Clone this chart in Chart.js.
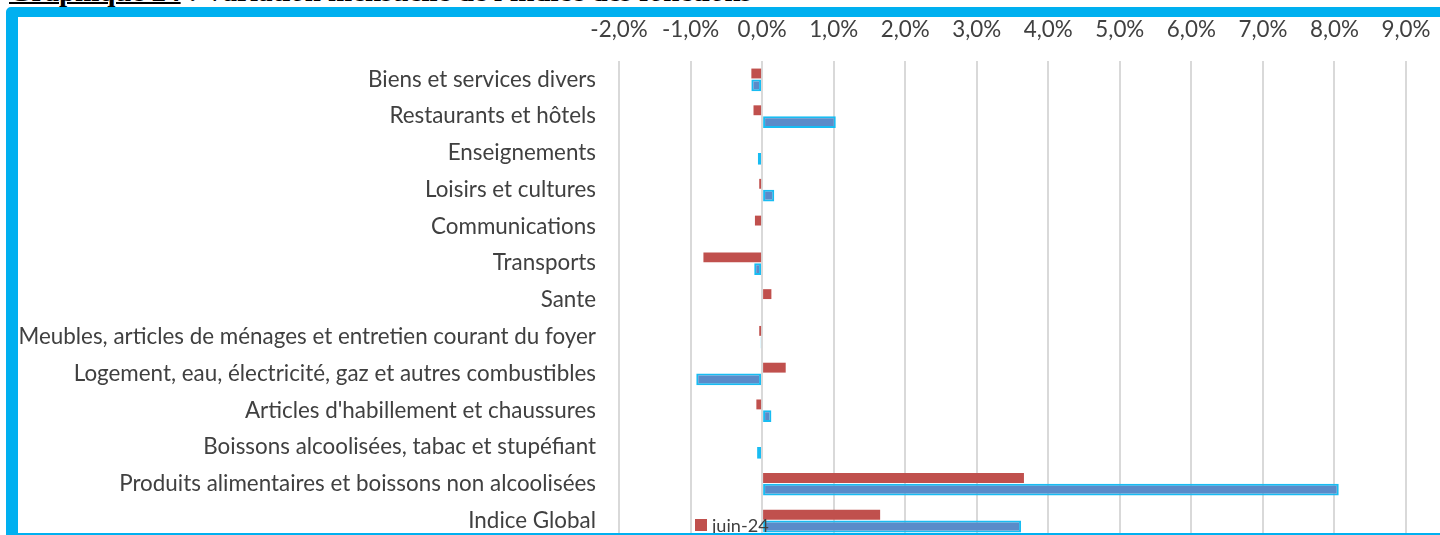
<!DOCTYPE html>
<html lang="fr">
<head>
<meta charset="utf-8">
<title>Variation mensuelle de l'indice des fonctions</title>
<script src="https://cdn.jsdelivr.net/npm/chart.js@4.4.1/dist/chart.umd.min.js"></script>
<style>
    html, body { margin: 0; padding: 0; background: #fff; width: 1440px; height: 535px; overflow: hidden; }
    #title { position: absolute; left: 9px; top: -23px; font: bold 29px/28px "Liberation Serif", "Times New Roman", serif; color: #000; white-space: nowrap; }
    #title u { text-decoration-thickness: 1.5px; text-underline-offset: 1px; }
    #frame { position: absolute; left: 6px; top: 7px; width: 1440px; height: 516px; border: 10px solid #00b0f0; border-left-width: 12px; border-radius: 5px; overflow: hidden; background: #fff; }
    #chart-box { position: absolute; left: 0; top: 0; width: 1422px; height: 560px; }
    #legend { position: absolute; left: 677px; top: 496px; color: #404040; font-family: Lato, "Open Sans", sans-serif; }
    #legend .row { display: flex; align-items: center; height: 24px; }
    #legend .swatch { width: 12px; height: 12px; margin-right: 5px; }
</style>
</head>
<body>
<div id="title"><u>Graphique 24</u> : Variation mensuelle de l'indice des fonctions</div>
<div id="frame">
    <div id="chart-box"><canvas id="functions-chart"></canvas></div>
    <div id="legend"></div>
</div>
<script>
const categories = [
    'Biens et services divers',
    'Restaurants et hôtels',
    'Enseignements',
    'Loisirs et cultures',
    'Communications',
    'Transports',
    'Sante',
    'Meubles, articles de ménages et entretien courant du foyer',
    'Logement, eau, électricité, gaz et autres combustibles',
    "Articles d'habillement et chaussures",
    'Boissons alcoolisées, tabac et stupéfiant',
    'Produits alimentaires et boissons non alcoolisées',
    'Indice Global',
];

const seriesNames = ['juin-24', 'juil-24'];

// variation en %
const juin24 = [-0.15, -0.12, 0.0, -0.04, -0.10, -0.82, 0.13, -0.04, 0.33, -0.08, 0.0, 3.66, 1.65];
const juil24 = [-0.15, 1.03, -0.06, 0.17, 0.0, -0.11, 0.0, -0.02, -0.92, 0.13, -0.07, 8.06, 3.62];

const axisMin = -2;
const axisMax = 9;
const axisStep = 1;

const fontFamily = 'Lato, "Open Sans", sans-serif';

// fit the label font so the longest category matches the original width
const measureCtx = document.createElement('canvas').getContext('2d');
measureCtx.font = `100px ${fontFamily}`;
const widest = Math.max(...categories.map((text) => measureCtx.measureText(text).width));
const labelSize = Math.round(100 * 578 / widest * 10) / 10;
const legendSize = labelSize * 0.81;

const chartLeft = 601;
const chartTop = 44;

Chart.defaults.font.family = fontFamily;
Chart.defaults.color = '#404040';

const chart = new Chart(document.getElementById('functions-chart'), {
    type: 'bar',
    data: {
        labels: categories,
        datasets: [
            {
                label: seriesNames[0],
                data: juin24,
                backgroundColor: '#c0504d',
                borderWidth: 0,
                barPercentage: 0.84,
                categoryPercentage: 0.64,
            },
            {
                label: seriesNames[1],
                data: juil24,
                backgroundColor: '#5a8bc9',
                borderColor: '#18bcf2',
                borderWidth: 2,
                borderSkipped: false,
                barPercentage: 1,
                categoryPercentage: 0.64,
            },
        ],
    },
    options: {
        indexAxis: 'y',
        responsive: true,
        maintainAspectRatio: false,
        animation: false,
        layout: {
            padding: { top: 0, right: 34, bottom: 38, left: 0 },
        },
        plugins: {
            legend: { display: false },
            tooltip: { enabled: false },
        },
        scales: {
            x: {
                position: 'top',
                min: axisMin,
                max: axisMax,
                afterFit: (scale) => {
                    scale.height = chartTop;
                    scale.paddingLeft = 0;
                    scale.paddingRight = 0;
                },
                ticks: {
                    stepSize: axisStep,
                    padding: chartTop - 12.5 - labelSize * 0.6,
                    font: { size: labelSize },
                    callback: (value) => value.toFixed(1).replace('.', ',') + '%',
                },
                grid: {
                    color: '#d9d9d9',
                    lineWidth: 2,
                    drawTicks: false,
                },
                border: { display: false },
            },
            y: {
                afterFit: (scale) => { scale.width = chartLeft; },
                ticks: {
                    autoSkip: false,
                    padding: 23,
                    font: { size: labelSize },
                },
                grid: { display: false, drawTicks: false },
                border: { display: false },
            },
        },
    },
});

// legend box, the second row sits below the frame edge like in the original
const legend = document.getElementById('legend');
legend.style.fontSize = legendSize + 'px';
chart.data.datasets.forEach((dataset) => {
    const row = document.createElement('div');
    row.className = 'row';
    const swatch = document.createElement('span');
    swatch.className = 'swatch';
    swatch.style.background = dataset.backgroundColor;
    const text = document.createElement('span');
    text.textContent = dataset.label;
    row.appendChild(swatch);
    row.appendChild(text);
    legend.appendChild(row);
});
</script>
</body>
</html>
